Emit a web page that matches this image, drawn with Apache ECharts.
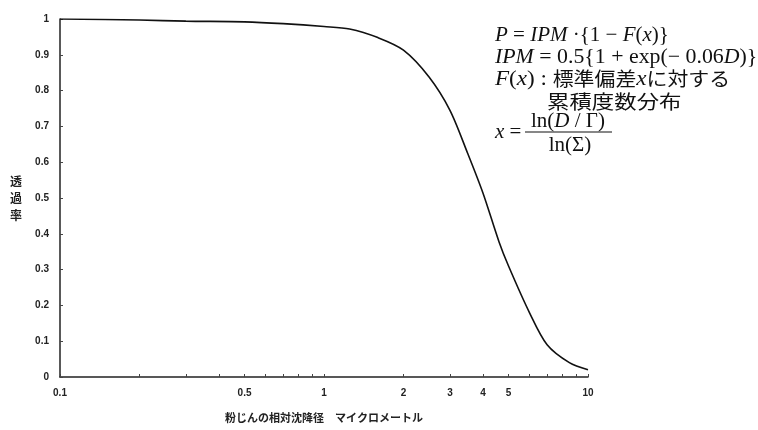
<!DOCTYPE html>
<html>
<head>
<meta charset="utf-8">
<title>透過率</title>
<script src="https://cdn.jsdelivr.net/npm/echarts@6/dist/echarts.min.js"></script>
<style>
  html, body { margin: 0; padding: 0; background: #fff; }
  #chart { width: 758px; height: 430px; }
</style>
</head>
<body>
<div id="chart"></div>
<script>
// 粉じんの相対沈降径 (μm)
const diameters = [0.1, 0.2, 0.3, 0.5, 0.7, 1, 1.25, 1.6, 2, 2.5, 3, 3.5, 4, 4.6, 5, 6, 7, 8.5, 10]
// 透過率
const transmission = [1.0, 0.997, 0.994, 0.992, 0.987, 0.979, 0.972, 0.948, 0.913, 0.838, 0.745, 0.625, 0.514, 0.378, 0.31, 0.18, 0.09, 0.04, 0.02]
// 目盛り
const xLabelValues = [0.1, 0.5, 1, 2, 3, 4, 5, 10]
const xTickValues = [0.1, 0.2, 0.3, 0.4, 0.5, 0.6, 0.7, 0.8, 0.9, 1, 2, 3, 4, 5, 6, 7, 8, 9, 10]

const chart = echarts.init(document.getElementById('chart'))

const serif = '"Liberation Serif", "Times New Roman", serif'
const jp = '"Noto Sans CJK JP", sans-serif'
const rich = {
  i: { fontFamily: serif, fontStyle: 'italic', fontSize: 21, color: '#111' },
  j: { fontFamily: jp, fontSize: 19, color: '#111' }
}

// 数式テキスト (x, y は行の中心)
function formula(x, y, text, align, scaleX) {
  return {
    type: 'text', x: x, y: y, z: 10,
    scaleX: scaleX || 1,
    style: {
      text: text, rich: rich, fill: '#111', font: '21px ' + serif,
      align: align || 'left', verticalAlign: 'middle'
    }
  }
}

const option = {
  animation: false,
  backgroundColor: '#fff',
  grid: { left: 60, right: 170, top: 19, bottom: 53 },
  xAxis: {
    type: 'log',
    logBase: 10,
    min: 0.1,
    max: 10,
    name: '粉じんの相対沈降径　マイクロメートル',
    nameLocation: 'middle',
    nameGap: 35,
    nameTextStyle: { fontFamily: jp, fontSize: 11, fontWeight: 'bold', color: '#222' },
    axisLine: { lineStyle: { color: '#222', width: 1.5 } },
    axisTick: { inside: true, length: 3, customValues: xTickValues, lineStyle: { color: '#444' } },
    axisLabel: {
      customValues: xLabelValues,
      margin: 11,
      fontSize: 10,
      fontWeight: 'bold',
      color: '#222',
      formatter: v => String(+v.toPrecision(3))
    },
    splitLine: { show: false }
  },
  yAxis: {
    type: 'value',
    min: 0,
    max: 1,
    interval: 0.1,
    name: '透\n過\n率',
    nameLocation: 'middle',
    nameRotate: 0,
    nameGap: 38,
    nameTextStyle: { fontFamily: jp, fontSize: 12, fontWeight: 'bold', color: '#222', lineHeight: 17 },
    axisLine: { show: true, lineStyle: { color: '#222', width: 1.5 } },
    axisTick: { show: true, inside: true, length: 3, lineStyle: { color: '#444' } },
    axisLabel: {
      margin: 11,
      fontSize: 10,
      fontWeight: 'bold',
      color: '#222',
      formatter: v => String(+v.toFixed(1))
    },
    splitLine: { show: false }
  },
  series: [{
    type: 'line',
    data: diameters.map((d, i) => [d, transmission[i]]),
    smooth: 0.3,
    showSymbol: false,
    lineStyle: { color: '#111', width: 1.6 }
  }],
  graphic: [
    formula(495, 35, '{i|P} = {i|IPM} ·{1 − {i|F}({i|x})}'),
    formula(495, 57, '{i|IPM} = 0.5{1 + exp(− 0.06{i|D})}', 'left', 1.04),
    formula(495, 79, '{i|F}({i|x}) : {j|標準偏差}{i|x}{j|に対する}', 'left', 1.1),
    formula(547, 102, '{j|累積度数分布}', 'left', 1.18),
    formula(495, 132, '{i|x} ='),
    formula(568, 121, 'ln({i|D} / Γ)', 'center'),
    formula(570, 145, 'ln(Σ)', 'center'),
    {
      type: 'line', z: 10,
      shape: { x1: 525, y1: 132, x2: 612, y2: 132 },
      style: { stroke: '#111', lineWidth: 1.2 }
    }
  ]
}

chart.setOption(option)
</script>
</body>
</html>
